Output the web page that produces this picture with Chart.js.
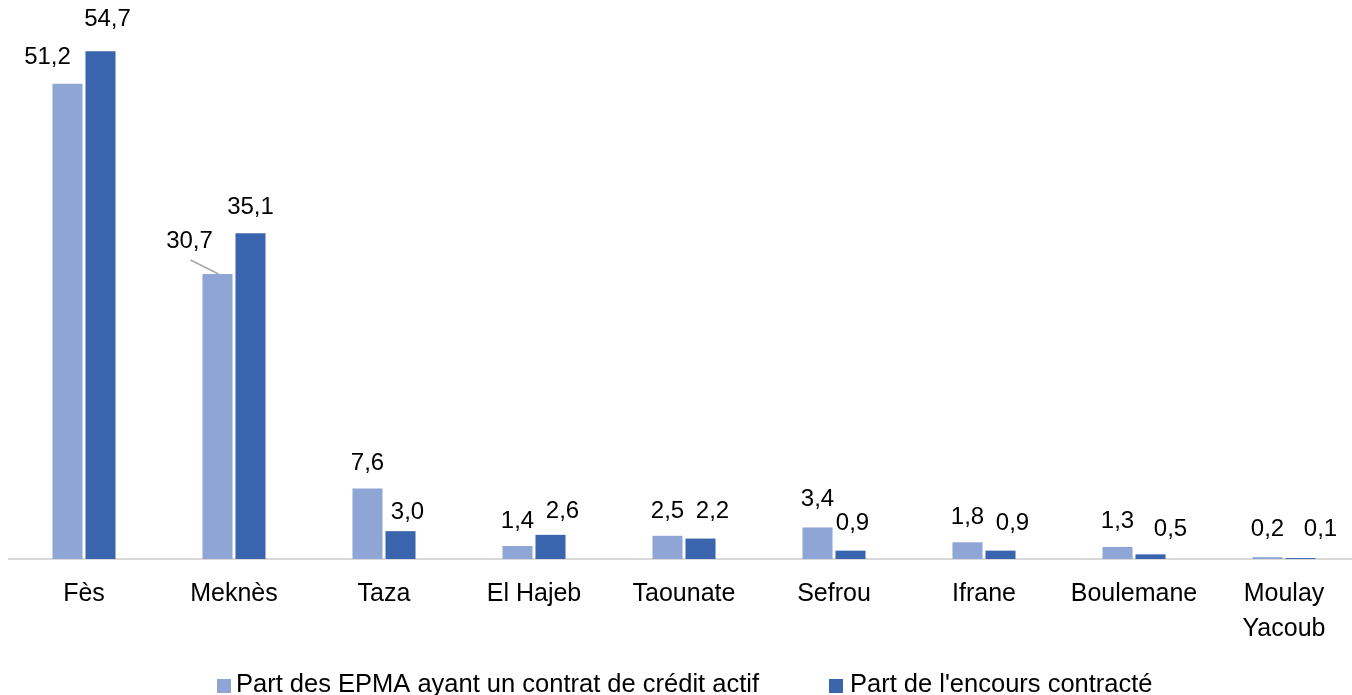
<!DOCTYPE html>
<html lang="fr">
<head>
<meta charset="UTF-8">
<title>EPMA crédit</title>
<script src="https://cdn.jsdelivr.net/npm/chart.js"></script>
<style>
    html, body { margin: 0; padding: 0; background: #fff; overflow: hidden; }
    #wrap { position: absolute; left: 0; top: 0; }
</style>
</head>
<body>
<div id="wrap">
    <canvas id="chart" width="1370" height="700"></canvas>
</div>
<script>
    const categories = ['Fès', 'Meknès', 'Taza', 'El Hajeb', 'Taounate', 'Sefrou', 'Ifrane', 'Boulemane', ['Moulay', 'Yacoub']];
    const seriesNames = ['Part des EPMA ayant un contrat de crédit actif', "Part de l'encours contracté"];
    const partEpma = [51.2, 30.7, 7.6, 1.4, 2.5, 3.4, 1.8, 1.3, 0.2];
    const partEncours = [54.7, 35.1, 3.0, 2.6, 2.2, 0.9, 0.9, 0.5, 0.1];
    const colors = ['#8fa5d6', '#3a64ad'];

    // décalage des étiquettes (x, y du centre du texte par rapport au haut de la barre)
    const labelShift = [
        [[-20, -26], [-28, -33], [0, -25], [0, -25], [0, -24], [0, -28], [0, -25], [0, -26], [0, -28]],
        [[7, -32], [0, -26], [7, -19], [12, -23], [12, -27], [2, -27], [12, -27], [20, -25], [20, -29]]
    ];
    // position des éléments de la légende (carré, texte)
    const legendPos = [[217, 236], [829, 850]];
    const legendY = 692;

    const fmt = v => v.toFixed(1).replace('.', ',');

    const valueLabels = {
        id: 'valueLabels',
        afterDatasetsDraw(chart) {
            const ctx = chart.ctx;
            ctx.save();
            ctx.font = '24px "Liberation Sans", Arial, sans-serif';
            ctx.fillStyle = '#000';
            ctx.textAlign = 'center';
            ctx.textBaseline = 'middle';
            chart.data.datasets.forEach((ds, i) => {
                const meta = chart.getDatasetMeta(i);
                meta.data.forEach((bar, j) => {
                    const s = labelShift[i][j];
                    ctx.fillText(fmt(ds.data[j]), bar.x + s[0], bar.y + s[1]);
                });
            });
            // trait de rappel pour Meknès
            const b = chart.getDatasetMeta(0).data[1];
            ctx.strokeStyle = '#a6a6a6';
            ctx.lineWidth = 1.5;
            ctx.beginPath();
            ctx.moveTo(b.x - 27, b.y - 14);
            ctx.lineTo(b.x + 1, b.y);
            ctx.stroke();

            // légende
            ctx.font = '25.5px "Liberation Sans", Arial, sans-serif';
            ctx.textAlign = 'left';
            ctx.textBaseline = 'alphabetic';
            chart.data.datasets.forEach((ds, i) => {
                ctx.fillStyle = ds.backgroundColor;
                ctx.fillRect(legendPos[i][0], legendY - 13, 14, 14);
                ctx.fillStyle = '#000';
                ctx.fillText(ds.label, legendPos[i][1], legendY);
            });
            ctx.restore();
        }
    };

    const ctx = document.getElementById('chart').getContext('2d');
    const chart = new Chart(ctx, {
        type: 'bar',
        data: {
            labels: categories,
            datasets: [
                { label: seriesNames[0], data: partEpma, backgroundColor: colors[0] },
                { label: seriesNames[1], data: partEncours, backgroundColor: colors[1] }
            ]
        },
        options: {
            responsive: false,
            animation: false,
            layout: { padding: { left: 9, right: 11, top: 2, bottom: 43 } },
            datasets: {
                bar: { categoryPercentage: 0.44, barPercentage: 0.91 }
            },
            scales: {
                x: {
                    grid: { display: false },
                    border: { color: '#d9d9d9', width: 2 },
                    ticks: {
                        color: '#000',
                        padding: 10,
                        maxRotation: 0,
                        autoSkip: false,
                        font: { family: '"Liberation Sans", Arial, sans-serif', size: 25, lineHeight: 1.4 }
                    }
                },
                y: { display: false, min: 0, max: 60 }
            },
            plugins: {
                tooltip: { enabled: false },
                legend: { display: false }
            }
        },
        plugins: [valueLabels]
    });
</script>
</body>
</html>
